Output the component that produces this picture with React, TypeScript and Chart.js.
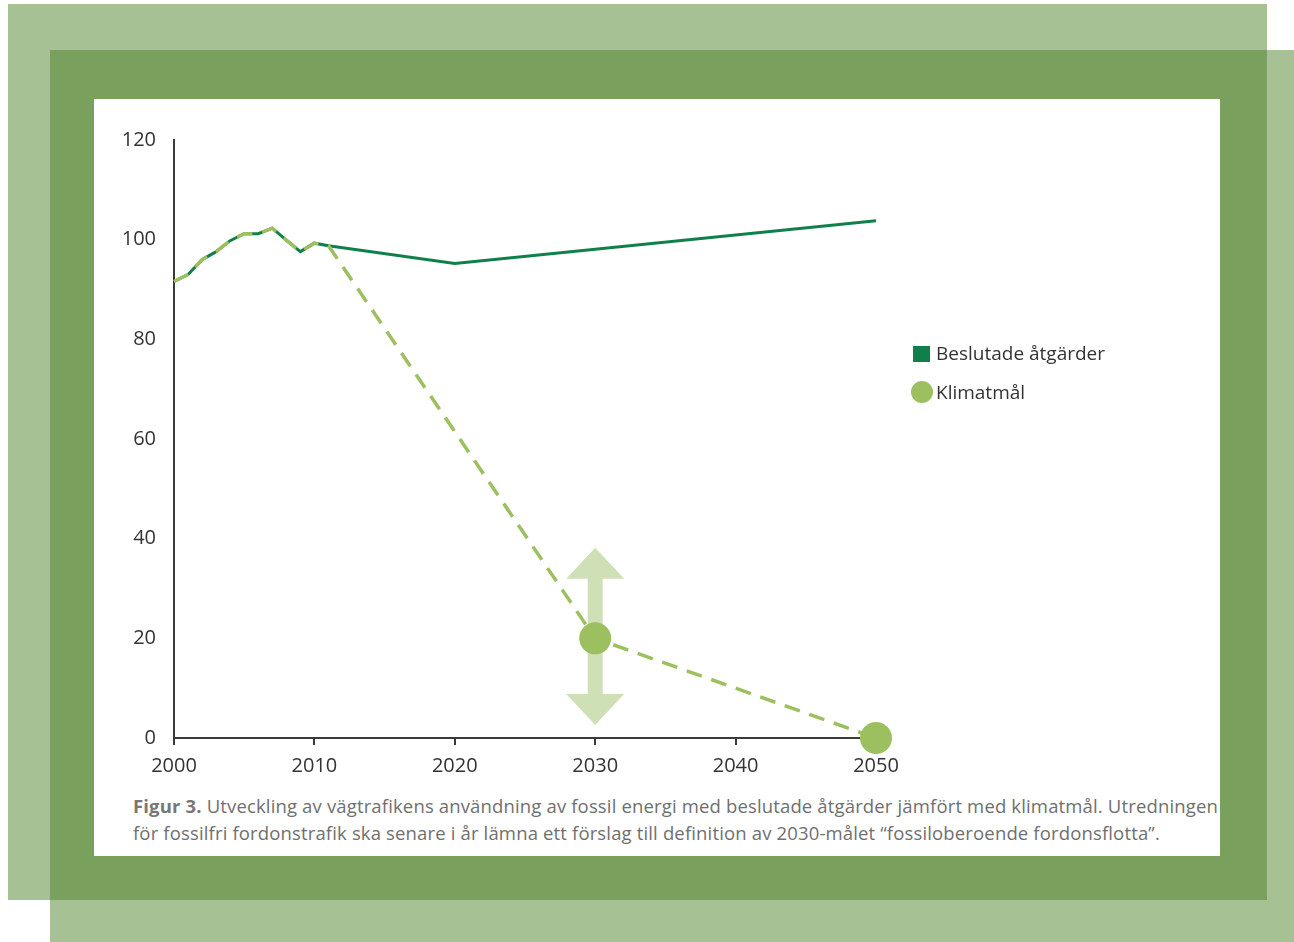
import React, { useEffect, useRef } from "react";
import { Chart, registerables } from "chart.js";

Chart.register(...registerables);

const besYears = [2000, 2001, 2002, 2003, 2004, 2005, 2006, 2007, 2008, 2009, 2010, 2011, 2020, 2050];
const besValues = [91.6, 93, 96, 97.6, 99.8, 101.2, 101.2, 102.3, 99.9, 97.6, 99.3, 98.8, 95.2, 103.8];

const klimYears = [2000, 2001, 2002, 2003, 2004, 2005, 2006, 2007, 2008, 2009, 2010, 2011, 2030, 2050];
const klimValues = [91.6, 93, 96, 97.6, 99.8, 101.2, 101.2, 102.3, 99.9, 97.6, 99.3, 98.8, 20, 0];
const klimMarkerYears = [2030, 2050];

const arrowYear = 2030;
const arrowRange = [2.6, 38.2];

const seriesNames = ["Beslutade åtgärder", "Klimatmål"];
const xTicks = [2000, 2010, 2020, 2030, 2040, 2050];
const yTicks = [0, 20, 40, 60, 80, 100, 120];

const captionBold = "Figur 3.";
const captionLine1 = " Utveckling av vägtrafikens användning av fossil energi med beslutade åtgärder jämfört med klimatmål. Utredningen";
const captionLine2 = "för fossilfri fordonstrafik ska senare i år lämna ett förslag till definition av 2030-målet “fossiloberoende fordonsflotta”.";

const DARK = "#10804a";
const LIGHT = "#9cc05f";
const ARROW = "#cfe0b7";
const FONT = "'Open Sans', sans-serif";

const arrowPlugin = {
  id: "arrowPlugin",
  beforeDatasetsDraw(chart: any) {
    const { ctx, scales } = chart;
    const x = scales.x.getPixelForValue(arrowYear);
    const yTop = scales.y.getPixelForValue(arrowRange[1]);
    const yBot = scales.y.getPixelForValue(arrowRange[0]);
    const headLen = 31;
    const headHalf = 29;
    const shaftHalf = 7.5;
    ctx.save();
    ctx.fillStyle = ARROW;
    ctx.beginPath();
    ctx.moveTo(x, yTop);
    ctx.lineTo(x + headHalf, yTop + headLen);
    ctx.lineTo(x + shaftHalf, yTop + headLen);
    ctx.lineTo(x + shaftHalf, yBot - headLen);
    ctx.lineTo(x + headHalf, yBot - headLen);
    ctx.lineTo(x, yBot);
    ctx.lineTo(x - headHalf, yBot - headLen);
    ctx.lineTo(x - shaftHalf, yBot - headLen);
    ctx.lineTo(x - shaftHalf, yTop + headLen);
    ctx.lineTo(x - headHalf, yTop + headLen);
    ctx.closePath();
    ctx.fill();
    ctx.restore();
  },
};

function ChartCanvas() {
  const ref = useRef<HTMLCanvasElement | null>(null);
  useEffect(() => {
    if (!ref.current) return;
    const chart = new Chart(ref.current, {
      type: "line",
      data: {
        datasets: [
          {
            label: seriesNames[0],
            data: besYears.map((x, i) => ({ x, y: besValues[i] })),
            borderColor: DARK,
            backgroundColor: DARK,
            borderWidth: 3,
            pointRadius: 0,
            tension: 0,
            order: 1,
          },
          {
            label: seriesNames[1],
            data: klimYears.map((x, i) => ({ x, y: klimValues[i] })),
            borderColor: LIGHT,
            backgroundColor: LIGHT,
            borderWidth: 3.5,
            borderDash: [16, 10],
            pointRadius: (c: any) => (klimMarkerYears.includes(klimYears[c.dataIndex]) ? 16 : 0),
            pointBorderWidth: 0,
            pointBackgroundColor: LIGHT,
            tension: 0,
            clip: false,
            order: 0,
          },
        ],
      },
      options: {
        animation: false,
        responsive: false,
        maintainAspectRatio: false,
        layout: { padding: { left: 0, top: 41, right: 344, bottom: 11 } },
        plugins: { legend: { display: false }, tooltip: { enabled: false } },
        scales: {
          x: {
            type: "linear",
            min: 2000,
            max: 2050,
            afterBuildTicks: (s: any) => {
              s.ticks = xTicks.map((v) => ({ value: v }));
            },
            afterFit: (s: any) => {
              s.height = 40;
            },
            ticks: {
              callback: (v: any) => String(v),
              color: "#333",
              font: { family: FONT, size: 20 },
              padding: 9,
              maxRotation: 0,
            },
            grid: { drawOnChartArea: false, drawTicks: true, tickLength: 7, color: "#3a3a3a", lineWidth: 2 },
            border: { display: true, color: "#3a3a3a", width: 2 },
          },
          y: {
            min: 0,
            max: 120,
            afterBuildTicks: (s: any) => {
              s.ticks = yTicks.map((v) => ({ value: v }));
            },
            afterFit: (s: any) => {
              s.width = 80;
            },
            ticks: {
              color: "#333",
              font: { family: FONT, size: 20 },
              padding: 18,
            },
            grid: { display: false, drawTicks: false },
            border: { display: true, color: "#3a3a3a", width: 2 },
          },
        },
      },
      plugins: [arrowPlugin],
    } as any);
    return () => chart.destroy();
  }, []);
  return (
    <canvas
      ref={ref}
      width={1126}
      height={690}
      style={{ position: "absolute", left: 0, top: 0, width: 1126, height: 690 }}
    />
  );
}

export default function App() {
  const abs = (l: number, t: number, w: number, h: number, bg: string): React.CSSProperties => ({
    position: "absolute",
    left: l,
    top: t,
    width: w,
    height: h,
    background: bg,
  });
  return (
    <div style={{ position: "absolute", left: 0, top: 0, width: 1294, height: 942, background: "#fff", overflow: "hidden", fontFamily: FONT }}>
      <div style={abs(8, 4, 1259, 896, "#a6c194")} />
      <div style={abs(50, 50, 1244, 892, "#a6c194")} />
      <div style={abs(50, 50, 1217, 850, "#7aa05e")} />
      <div style={{ ...abs(94, 99, 1126, 757, "#fff"), overflow: "hidden" }}>
        <ChartCanvas />
        <div style={{ position: "absolute", left: 819, top: 247, width: 17, height: 16, background: DARK }} />
        <div style={{ position: "absolute", left: 842, top: 240, fontSize: 19, lineHeight: "28px", color: "#333", whiteSpace: "nowrap" }}>
          {seriesNames[0]}
        </div>
        <div style={{ position: "absolute", left: 817, top: 282, width: 22, height: 22, borderRadius: "50%", background: LIGHT }} />
        <div style={{ position: "absolute", left: 842, top: 279, fontSize: 19, lineHeight: "28px", color: "#333", whiteSpace: "nowrap" }}>
          {seriesNames[1]}
        </div>
        <div style={{ position: "absolute", left: 39, top: 693, fontSize: 18.5, letterSpacing: "0.15px", lineHeight: "27px", color: "#6f6f6f", whiteSpace: "nowrap" }}>
          <div>
            <b style={{ color: "#777" }}>{captionBold}</b>
            {captionLine1}
          </div>
          <div>{captionLine2}</div>
        </div>
      </div>
    </div>
  );
}
